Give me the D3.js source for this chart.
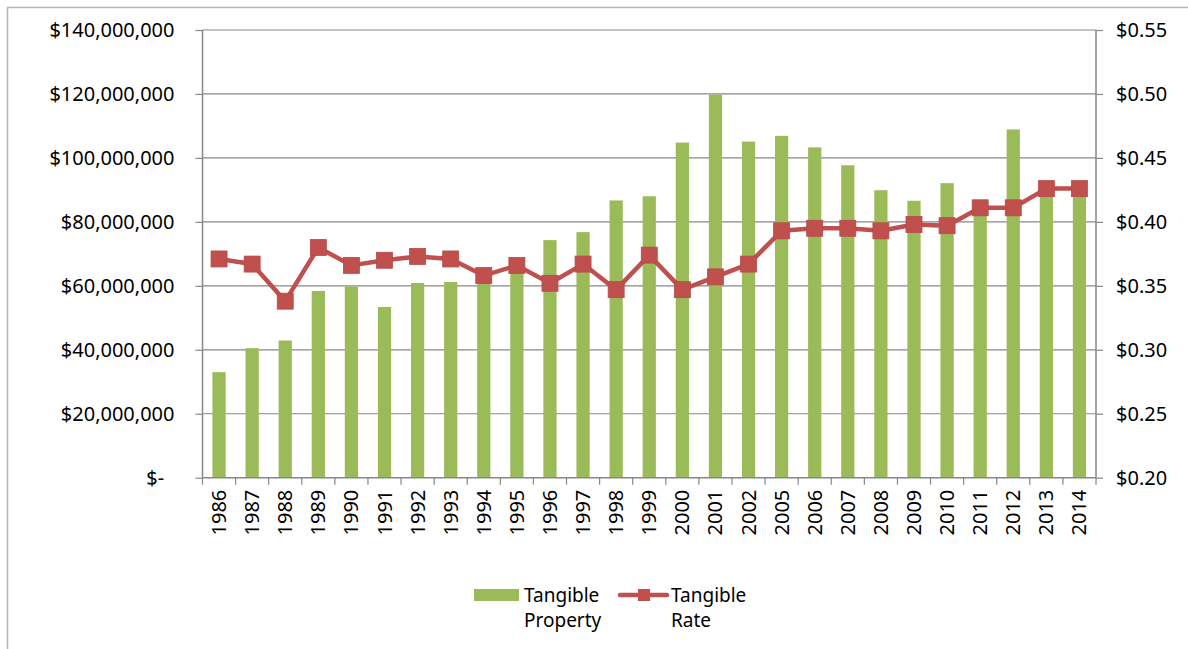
<!DOCTYPE html>
<html>
<head>
<meta charset="utf-8">
<script src="https://cdn.jsdelivr.net/npm/d3@7"></script>
<style>
  html, body { margin: 0; padding: 0; background: #fff; }
  svg { display: block; font-family: "Noto Sans", "Open Sans", sans-serif; }
</style>
</head>
<body>
<svg id="chart" width="1188" height="649"></svg>
<script>
// ---- data ----
const years = ["1986","1987","1988","1989","1990","1991","1992","1993","1994","1995",
  "1996","1997","1998","1999","2000","2001","2002","2005","2006","2007",
  "2008","2009","2010","2011","2012","2013","2014"];
const tangibleProperty = [33.0e6, 40.5e6, 42.9e6, 58.4e6, 59.8e6, 53.4e6, 60.9e6, 61.2e6, 60.8e6, 64.0e6,
  74.3e6, 76.8e6, 86.7e6, 88.0e6, 104.8e6, 119.8e6, 105.1e6, 106.9e6, 103.3e6, 97.7e6,
  89.9e6, 86.6e6, 92.1e6, 83.0e6, 108.9e6, 88.5e6, 88.5e6];
const tangibleRate = [0.371, 0.367, 0.338, 0.380, 0.366, 0.370, 0.373, 0.371, 0.358, 0.366,
  0.352, 0.367, 0.347, 0.374, 0.347, 0.357, 0.367, 0.393, 0.395, 0.395,
  0.393, 0.398, 0.397, 0.411, 0.411, 0.426, 0.426];
const leftTicks = [0, 20e6, 40e6, 60e6, 80e6, 100e6, 120e6, 140e6];
const rightTicks = [0.20, 0.25, 0.30, 0.35, 0.40, 0.45, 0.50, 0.55];
const seriesNames = [["Tangible", "Property"], ["Tangible", "Rate"]];

// ---- layout ----
const svg = d3.select("#chart");
const plot = { left: 202.5, right: 1096, top: 30, bottom: 477.7 };
const barColor = "#9BBB59", lineColor = "#C0504D", gridColor = "#878787";
const fontSize = 20;

// outer chart border
svg.append("rect").attr("x", 7.5).attr("y", 7.5).attr("width", 1200).attr("height", 700)
  .attr("fill", "none").attr("stroke", "#b4b4b4").attr("stroke-width", 1.5);

const x = d3.scaleBand().domain(years).range([plot.left, plot.right])
  .paddingInner(0.6).paddingOuter(0.3);
const xEdge = d3.scaleBand().domain(years).range([plot.left, plot.right]).padding(0);
const yL = d3.scaleLinear().domain([0, 140e6]).range([plot.bottom, plot.top]);
const yR = d3.scaleLinear().domain([0.20, 0.55]).range([plot.bottom, plot.top]);

// gridlines
svg.append("g").selectAll("line").data(leftTicks.slice(1)).join("line")
  .attr("x1", plot.left).attr("x2", plot.right)
  .attr("y1", d => yL(d)).attr("y2", d => yL(d))
  .attr("stroke", gridColor).attr("stroke-width", 1.2);

// left axis
const fmtL = d => d === 0 ? "$-\u00a0\u00a0" : "$" + d3.format(",")(d);
const gL = svg.append("g").attr("transform", `translate(${plot.left},0)`)
  .call(d3.axisLeft(yL).tickValues(leftTicks).tickFormat(fmtL).tickSize(7).tickPadding(21));
gL.selectAll("text").style("white-space", "pre");

// right axis
const gR = svg.append("g").attr("transform", `translate(${plot.right},0)`)
  .call(d3.axisRight(yR).tickValues(rightTicks).tickFormat(d => "$" + d3.format(".2f")(d)).tickSize(7).tickPadding(13));

[gL, gR].forEach(g => {
  g.attr("font-size", fontSize).attr("font-family", "'Noto Sans', sans-serif");
  g.select(".domain").attr("stroke", gridColor).attr("stroke-width", 1.5);
  g.selectAll(".tick line").attr("stroke", gridColor).attr("stroke-width", 1.2);
  g.selectAll("text").attr("font-size", fontSize).attr("fill", "#000");
});
gL.select(".domain").attr("d", `M0,${plot.top}V${plot.bottom}`);
gR.select(".domain").attr("d", `M0,${plot.top}V${plot.bottom}`);

// bars
svg.append("g").selectAll("rect").data(years).join("rect")
  .attr("x", d => x(d)).attr("width", x.bandwidth())
  .attr("y", (d, i) => yL(tangibleProperty[i]))
  .attr("height", (d, i) => yL(0) - yL(tangibleProperty[i]))
  .attr("fill", barColor);

// bottom axis line + boundary ticks
const gX = svg.append("g");
gX.append("line").attr("x1", plot.left).attr("x2", plot.right)
  .attr("y1", plot.bottom).attr("y2", plot.bottom)
  .attr("stroke", gridColor).attr("stroke-width", 1.5);
const edges = years.map(d => xEdge(d)).concat([xEdge(years[years.length - 1]) + xEdge.bandwidth()]);
gX.selectAll("line.tk").data(edges).join("line").attr("class", "tk")
  .attr("x1", d => d).attr("x2", d => d)
  .attr("y1", plot.bottom).attr("y2", plot.bottom + 7)
  .attr("stroke", gridColor).attr("stroke-width", 1.2);
gX.selectAll("text").data(years).join("text")
  .attr("transform", d => `translate(${x(d) + x.bandwidth() / 2},${plot.bottom + 12}) rotate(-90)`)
  .attr("text-anchor", "end").attr("dy", "0.35em")
  .attr("font-size", fontSize).attr("fill", "#000")
  .text(d => d);

// line + markers
const cx = d => x(d) + x.bandwidth() / 2;
const line = d3.line().x(d => cx(d)).y((d, i) => yR(tangibleRate[i]));
svg.append("path").datum(years).attr("d", line)
  .attr("fill", "none").attr("stroke", lineColor).attr("stroke-width", 4.5)
  .attr("stroke-linejoin", "round");
const ms = 16;
svg.append("g").selectAll("rect").data(years).join("rect")
  .attr("x", d => cx(d) - ms / 2).attr("y", (d, i) => yR(tangibleRate[i]) - ms / 2)
  .attr("width", ms).attr("height", ms)
  .attr("fill", lineColor).attr("stroke", "#b84a47").attr("stroke-width", 0.8);

// legend
const lg = svg.append("g");
lg.append("rect").attr("x", 474).attr("y", 589).attr("width", 45).attr("height", 12).attr("fill", barColor);
lg.append("line").attr("x1", 620).attr("x2", 667).attr("y1", 595).attr("y2", 595)
  .attr("stroke", lineColor).attr("stroke-width", 4.5).attr("stroke-linecap", "round");
lg.append("rect").attr("x", 638).attr("y", 589).attr("width", 12).attr("height", 12).attr("fill", lineColor);
const legX = [524, 671];
seriesNames.forEach((lines, k) => {
  const t = lg.append("text").attr("x", legX[k]).attr("y", 602)
    .attr("font-size", 19).attr("fill", "#000");
  lines.forEach((s, j) => t.append("tspan").attr("x", legX[k]).attr("dy", j === 0 ? 0 : 25).text(s));
});
</script>
</body>
</html>
